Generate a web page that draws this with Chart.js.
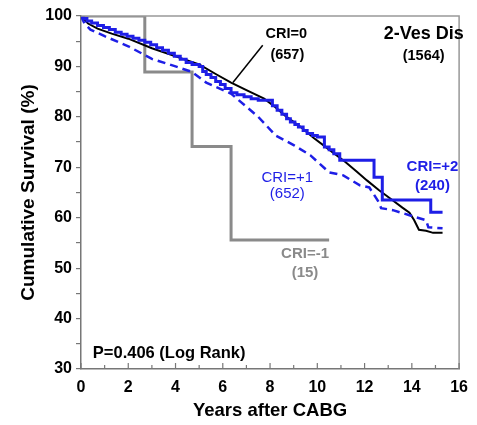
<!DOCTYPE html>
<html>
<head>
<meta charset="utf-8">
<script src="https://cdn.jsdelivr.net/npm/chart.js@4"></script>
<style>
  body { margin: 0; background: #fff; }
  #wrap { width: 477px; height: 425px; }
</style>
</head>
<body>
<div id="wrap"><canvas id="myChart" width="477" height="425"></canvas></div>
<script>
// CRI=-1 (15)
const yearsM1 = [0, 2.7, 4.7, 6.35, 10.5];
const survM1 = [100, 88.9, 74.1, 55.6, 55.6];

// CRI=0 (657)
const years0 = [0, 0.3, 0.7, 1.3, 2, 3, 4, 4.5, 5, 5.7, 6.35, 7, 7.75, 8.2, 8.7, 9.3, 9.85, 10.5, 11.2, 11.7, 12.1, 12.6, 13.2, 13.6, 13.9, 14.1, 14.3, 14.6, 14.9, 15.3];
const surv0 = [100, 98.5, 97.5, 96.5, 95.5, 93.6, 92, 91.2, 90.4, 88.5, 86.8, 85.3, 83.6, 82, 80, 78, 75.8, 73.5, 71, 69, 67.4, 65.5, 63.4, 62, 61, 59.5, 57.6, 57.4, 57, 57];

// CRI=+1 (652)
const years1 = [0, 0.15, 0.4, 1, 2, 3, 4, 4.7, 5.3, 6.35, 7.5, 8.24, 9, 9.7, 10.5, 11.1, 11.8, 12.2, 12.6, 12.7, 13.2, 13.9, 14.6, 14.7, 15.3];
const surv1 = [100, 98.5, 97.3, 96, 94, 91.5, 90, 88.9, 86.8, 84.6, 80, 76.3, 74.4, 72.4, 69, 68.4, 66.4, 66, 63.1, 61.9, 61.5, 60.5, 59.5, 58.1, 57.9];

// CRI=+2 (240)
const years2 = [0, 0.1, 0.25, 0.45, 0.7, 0.95, 1.2, 1.45, 1.7, 1.95, 2.2, 2.45, 2.7, 2.95, 3.2, 3.45, 3.7, 3.95, 4.2, 4.45, 4.7, 5.0, 5.15, 5.3, 5.5, 5.7, 5.9, 6.1, 6.35, 6.6, 6.9, 7.2, 7.5, 8.1, 8.3, 8.5, 8.7, 8.86, 9.05, 9.2, 9.4, 9.57, 9.8, 10.0, 10.3, 10.5, 10.7, 10.95, 12.4, 12.75, 14.8, 15.3];
const surv2 = [100, 99.5, 99.0, 98.6, 98.1, 97.7, 97.3, 96.8, 96.4, 96.0, 95.6, 95.2, 94.8, 94.3, 93.7, 93.2, 92.6, 92.0, 91.4, 90.8, 90.4, 90.0, 89.0, 88.4, 87.8, 87.0, 86.4, 85.6, 84.8, 84.4, 84.0, 83.6, 83.3, 82.2, 81.3, 80.5, 79.6, 79.0, 78.5, 78.0, 77.3, 76.7, 76.3, 76.0, 74.0, 73.5, 72.7, 71.4, 68.0, 63.5, 61.1, 61.1];

const xTicks = [0, 2, 4, 6, 8, 10, 12, 14, 16];
const yTicks = [30, 40, 50, 60, 70, 80, 90, 100];

const FONT = "'Liberation Sans', Arial, sans-serif";
const BLUE = '#1e1ee6';
const GREY = '#8a8a8a';
const AXIS = '#777777';

function pts(xs, ys) {
  return xs.map((x, i) => ({ x: x, y: ys[i] }));
}

// notes placed in data units
const notes = [
  { text: 'CRI=0', x: 8.69, y: 96.5, color: '#000', font: 'bold 14.5px ' + FONT },
  { text: '(657)', x: 8.73, y: 92.3, color: '#000', font: 'bold 14.5px ' + FONT },
  { text: '2-Ves Dis', x: 14.5, y: 96.5, color: '#000', font: 'bold 18px ' + FONT },
  { text: '(1564)', x: 14.5, y: 92.0, color: '#000', font: 'bold 14.5px ' + FONT },
  { text: 'CRI=+1', x: 8.73, y: 68.0, color: BLUE, font: '15px ' + FONT },
  { text: '(652)', x: 8.73, y: 64.8, color: BLUE, font: '15px ' + FONT },
  { text: 'CRI=+2', x: 14.87, y: 70.0, color: BLUE, font: 'bold 15px ' + FONT },
  { text: '(240)', x: 14.87, y: 66.4, color: BLUE, font: 'bold 15px ' + FONT },
  { text: 'CRI=-1', x: 9.48, y: 52.8, color: GREY, font: 'bold 15px ' + FONT },
  { text: '(15)', x: 9.48, y: 49.0, color: GREY, font: 'bold 15px ' + FONT },
  { text: 'P=0.406 (Log Rank)', x: 0.5, y: 33.0, color: '#000', font: 'bold 16.5px ' + FONT, align: 'left' }
];

const extras = {
  id: 'extras',
  afterDraw(chart) {
    const ctx = chart.ctx;
    const xs = chart.scales.x, ys = chart.scales.y;
    const a = chart.chartArea;
    ctx.save();
    // frame top + right
    ctx.strokeStyle = '#999';
    ctx.lineWidth = 1.5;
    ctx.beginPath();
    ctx.moveTo(a.left, a.top);
    ctx.lineTo(a.right, a.top);
    ctx.lineTo(a.right, a.bottom);
    ctx.stroke();
    // x ticks pointing up
    ctx.strokeStyle = AXIS;
    ctx.lineWidth = 1.2;
    for (let v = 0; v <= 16; v++) {
      const px = xs.getPixelForValue(v);
      ctx.beginPath();
      ctx.moveTo(px, a.bottom);
      ctx.lineTo(px, a.bottom - (v % 2 === 0 ? 6 : 4));
      ctx.stroke();
    }
    // leader line for CRI=0
    ctx.strokeStyle = '#000';
    ctx.lineWidth = 1.5;
    ctx.beginPath();
    ctx.moveTo(xs.getPixelForValue(7.69), ys.getPixelForValue(94.2));
    ctx.lineTo(xs.getPixelForValue(6.43), ys.getPixelForValue(86.8));
    ctx.stroke();
    // text notes
    ctx.textBaseline = 'middle';
    for (const n of notes) {
      ctx.font = n.font;
      ctx.fillStyle = n.color;
      ctx.textAlign = n.align || 'center';
      ctx.fillText(n.text, xs.getPixelForValue(n.x), ys.getPixelForValue(n.y));
    }
    ctx.restore();
  }
};

const ctx = document.getElementById('myChart');

new Chart(ctx, {
  type: 'line',
  data: {
    datasets: [
      {
        label: 'CRI=+2',
        data: pts(years2, surv2),
        borderColor: BLUE,
        borderWidth: 3,
        stepped: true,
        pointRadius: 0,
        fill: false
      },
      {
        label: 'CRI=+1',
        data: pts(years1, surv1),
        borderColor: BLUE,
        borderWidth: 2.5,
        borderDash: [8, 5],
        pointRadius: 0,
        fill: false
      },
      {
        label: 'CRI=0',
        data: pts(years0, surv0),
        borderColor: '#000',
        borderWidth: 2,
        pointRadius: 0,
        fill: false
      },
      {
        label: 'CRI=-1',
        data: pts(yearsM1, survM1),
        borderColor: GREY,
        borderWidth: 3,
        stepped: true,
        pointRadius: 0,
        fill: false
      }
    ]
  },
  options: {
    responsive: false,
    animation: false,
    layout: { padding: { top: 16, right: 11, left: 0, bottom: 0 } },
    plugins: {
      legend: { display: false },
      tooltip: { enabled: false }
    },
    scales: {
      x: {
        type: 'linear',
        min: 0,
        max: 16,
        afterFit(scale) { scale.height = 56; },
        afterBuildTicks(scale) { scale.ticks = xTicks.map(v => ({ value: v })); },
        grid: { drawOnChartArea: false, drawTicks: false },
        border: { color: AXIS, width: 1.5 },
        ticks: {
          color: '#000',
          padding: 9,
          maxRotation: 0,
          font: { family: FONT, size: 16, weight: 'bold' }
        },
        title: {
          display: true,
          text: 'Years after CABG',
          color: '#000',
          padding: { top: 0, bottom: 3 },
          font: { family: FONT, size: 18.5, weight: 'bold' }
        }
      },
      y: {
        type: 'linear',
        min: 30,
        max: 100,
        afterFit(scale) { scale.width = 81; },
        ticks: {
          stepSize: 5,
          color: '#000',
          padding: 4,
          font: { family: FONT, size: 16, weight: 'bold' },
          callback: function (v) { return yTicks.includes(v) ? v : ''; }
        },
        grid: { drawOnChartArea: false, drawTicks: true, tickLength: 5, color: AXIS, lineWidth: 1.2 },
        border: { color: AXIS, width: 1.5 },
        title: {
          display: true,
          text: 'Cumulative Survival (%)',
          color: '#000',
          padding: { top: 17, bottom: 0 },
          font: { family: FONT, size: 19, weight: 'bold' }
        }
      }
    }
  },
  plugins: [extras]
});
</script>
</body>
</html>
